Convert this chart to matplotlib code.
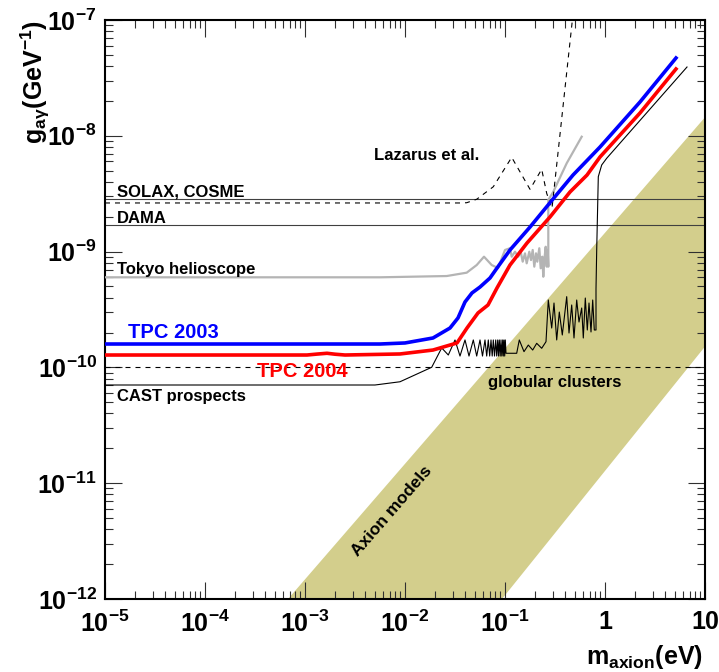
import matplotlib
matplotlib.use("Agg")
import matplotlib.pyplot as plt
import numpy as np
from matplotlib.ticker import FixedLocator, LogLocator, NullFormatter

plt.rcParams['font.family'] = ['Liberation Sans', 'DejaVu Sans']
plt.rcParams['font.weight'] = 'bold'
plt.rcParams['mathtext.fontset'] = 'custom'
plt.rcParams['mathtext.rm'] = 'Liberation Sans:bold'
plt.rcParams['mathtext.bf'] = 'Liberation Sans:bold'
plt.rcParams['mathtext.it'] = 'Liberation Sans:bold'
plt.rcParams['mathtext.default'] = 'bf'

# values are log10(m / eV) and log10(g / GeV^-1)
tpc2003_lgm = [-5.0, -2.25, -2.0, -1.72, -1.55, -1.47, -1.40, -1.33, -1.25, -1.15, -1.08,
               -0.95, -0.75, -0.52, -0.32, -0.05, 0.35, 0.71]
tpc2003_lgg = [-9.798, -9.798, -9.789, -9.746, -9.660, -9.573, -9.435, -9.357, -9.306, -9.228, -9.142,
               -8.986, -8.788, -8.546, -8.339, -8.097, -7.708, -7.328]

tpc2004_lgm = [-5.0, -2.98, -2.88, -2.78, -2.70, -2.60, -2.05, -1.72, -1.48, -1.38, -1.27, -1.17, -1.08,
               -0.95, -0.78, -0.55, -0.35, -0.18, -0.05, 0.35, 0.71]
tpc2004_lgg = [-9.893, -9.893, -9.885, -9.878, -9.886, -9.893, -9.884, -9.850, -9.789, -9.660, -9.530,
               -9.461, -9.314, -9.116, -8.926, -8.701, -8.485, -8.339, -8.183, -7.803, -7.423]

cast_lgm = [-5.0, -2.30, -2.05, -1.733, -1.633, -1.567,
            -1.50, -1.45, -1.40, -1.36, -1.317, -1.283, -1.25, -1.225, -1.20, -1.183,
            -1.167, -1.153, -1.14, -1.128, -1.117, -1.105, -1.093, -1.083, -1.073, -1.065,
            -1.057, -1.048, -1.04, -1.032, -1.023, -1.017, -1.01, -1.003, -0.997,
            -0.99, -0.883, -0.857, -0.81, -0.767, -0.723, -0.683, -0.633, -0.59,
            -0.567, -0.533, -0.51, -0.483, -0.457, -0.427, -0.383, -0.36, -0.333, -0.31,
            -0.283, -0.26, -0.233, -0.217, -0.197, -0.177, -0.16, -0.14, -0.123, -0.107,
            -0.09, -0.09, -0.083, -0.067, -0.033, 0.017, 0.82]
cast_lgg = [-10.152, -10.152, -10.124, -9.999, -9.832, -9.893,
            -9.763, -9.902, -9.763, -9.902, -9.763, -9.902, -9.763, -9.902, -9.763, -9.902,
            -9.763, -9.902, -9.763, -9.902, -9.763, -9.902, -9.763, -9.902, -9.763, -9.902,
            -9.763, -9.902, -9.763, -9.902, -9.763, -9.902, -9.763, -9.902, -9.763,
            -9.878, -9.878, -9.763, -9.864, -9.807, -9.850, -9.792, -9.835, -9.778,
            -9.418, -9.660, -9.444, -9.763, -9.522, -9.720, -9.389, -9.703, -9.461, -9.746,
            -9.418, -9.608, -9.487, -9.746, -9.401, -9.677, -9.444, -9.694, -9.418, -9.677,
            -9.677, -9.323, -8.986, -8.353, -8.252, -8.194, -7.406]

tokyo_lgm = [-5.0, -2.25, -1.583, -1.383, -1.283, -1.21, -1.133, -1.07, -1.0, -0.95, -0.933, -0.90,
             -0.867, -0.843, -0.823, -0.80, -0.783, -0.757, -0.74, -0.723, -0.707, -0.69, -0.677,
             -0.657, -0.643, -0.627, -0.617, -0.607, -0.593, -0.583, -0.573, -0.567, -0.567,
             -0.517, -0.383, -0.233]
tokyo_lgg = [-9.222, -9.222, -9.211, -9.182, -9.116, -9.044, -9.116, -9.142, -8.986, -8.971, -9.044, -9.001,
             -9.044, -9.001, -9.087, -9.015, -9.101, -9.001, -9.073, -8.986, -9.130, -9.015, -9.087,
             -8.971, -9.144, -9.044, -9.217, -9.073, -8.958, -9.130, -8.986, -9.130, -8.554,
             -8.483, -8.237, -8.008]

lazarus_lgm = [-5.0, -1.45, -1.383, -1.283, -1.117, -0.933, -0.75, -0.633, -0.583, -0.53, -0.32]
lazarus_lgg = [-8.580, -8.580, -8.578, -8.548, -8.440, -8.186, -8.462, -8.289, -8.497, -8.626, -6.95]

solax_lgg = -8.548
dama_lgg = -8.770
globular_lgg = -9.994

band_lgm = [-3.17, 1.0, 1.0, -1.03]
band_lgg = [-12.0, -7.84, -9.82, -12.0]

xtick_vals = [1e-5, 1e-4, 1e-3, 1e-2, 1e-1, 1, 10]
xtick_labels = ['$10^{-5}$', '$10^{-4}$', '$10^{-3}$', '$10^{-2}$', '$10^{-1}$', '1', '10']
ytick_vals = [1e-12, 1e-11, 1e-10, 1e-9, 1e-8, 1e-7]
ytick_labels = ['$10^{-12}$', '$10^{-11}$', '$10^{-10}$', '$10^{-9}$', '$10^{-8}$', '$10^{-7}$']


def p(lg):
    return np.power(10.0, lg)


fig = plt.figure(figsize=(7.19, 6.72), dpi=100)
ax = fig.add_axes([105 / 719, 1 - 599 / 672, 600 / 719, 579 / 672])
ax.set_xscale('log')
ax.set_yscale('log')
ax.set_xlim(1e-5, 10)
ax.set_ylim(1e-12, 1e-7)

ax.fill(p(band_lgm), p(band_lgg), color='#d3ce8c', lw=0, zorder=1)

ax.axhline(p(solax_lgg), color='#404040', lw=0.8, zorder=2)
ax.axhline(p(dama_lgg), color='#404040', lw=0.8, zorder=2)
ax.axhline(p(globular_lgg), color='black', lw=0.8, ls=(0, (4.5, 4.5)), zorder=2)

ax.plot(p(tokyo_lgm), p(tokyo_lgg), color='#b4b4b4', lw=1.6, zorder=3)
ax.plot(p(lazarus_lgm), p(lazarus_lgg), color='black', lw=0.8, ls=(0, (4.5, 4.5)), zorder=3)
ax.plot(p(cast_lgm), p(cast_lgg), color='black', lw=0.8, zorder=4)
ax.plot(p(tpc2004_lgm), p(tpc2004_lgg), color='red', lw=2.6, zorder=5)
ax.plot(p(tpc2003_lgm), p(tpc2003_lgg), color='blue', lw=2.6, zorder=6)

ax.xaxis.set_major_locator(FixedLocator(xtick_vals))
ax.set_xticklabels(xtick_labels)
ax.yaxis.set_major_locator(FixedLocator(ytick_vals))
ax.set_yticklabels(ytick_labels)
ax.xaxis.set_minor_locator(LogLocator(base=10, subs=np.arange(2, 10), numticks=20))
ax.yaxis.set_minor_locator(LogLocator(base=10, subs=np.arange(2, 10), numticks=20))
ax.xaxis.set_minor_formatter(NullFormatter())
ax.yaxis.set_minor_formatter(NullFormatter())
ax.tick_params(which='both', direction='in', top=True, right=True, width=0.8, color='#303030')
ax.tick_params(which='major', length=12.5, labelsize=18)
ax.tick_params(which='minor', length=6)
ax.tick_params(axis='x', which='major', pad=8)
ax.tick_params(axis='y', which='major', pad=6)
for s in ax.spines.values():
    s.set_linewidth(1.5)

tkw = dict(transform=ax.transAxes, fontsize=12, fontweight='bold', va='baseline')
ax.text(0.0195, 0.696, 'SOLAX, COSME', **tkw)
ax.text(0.0195, 0.650, 'DAMA', **tkw)
ax.text(0.0195, 0.561, 'Tokyo helioscope', **tkw)
ax.text(0.0195, 0.342, 'CAST prospects', **tkw)
ax.text(0.624, 0.759, 'Lazarus et al.', ha='right', **tkw)
ax.text(0.639, 0.367, 'globular clusters', **tkw)
ax.text(0.039, 0.450, 'TPC 2003', color='blue', transform=ax.transAxes, fontsize=14.5,
        fontweight='bold', va='baseline')
ax.text(0.253, 0.383, 'TPC 2004', color='red', transform=ax.transAxes, fontsize=14.5,
        fontweight='bold', va='baseline')
ax.text(0.478, 0.151, 'Axion models', transform=ax.transAxes, fontsize=12.5, fontweight='bold',
        rotation=49, ha='center', va='center', rotation_mode='anchor')

fig.text(703 / 719, 1 - 664 / 672, r'$m_{axion}(eV)$', fontsize=18, ha='right', va='baseline')
fig.text(43 / 719, 1 - 20 / 672, r'$g_{a\gamma}(GeV^{-1})$', fontsize=18, rotation=90,
         ha='right', va='baseline', rotation_mode='anchor')

fig.savefig('out.png', dpi=100)
